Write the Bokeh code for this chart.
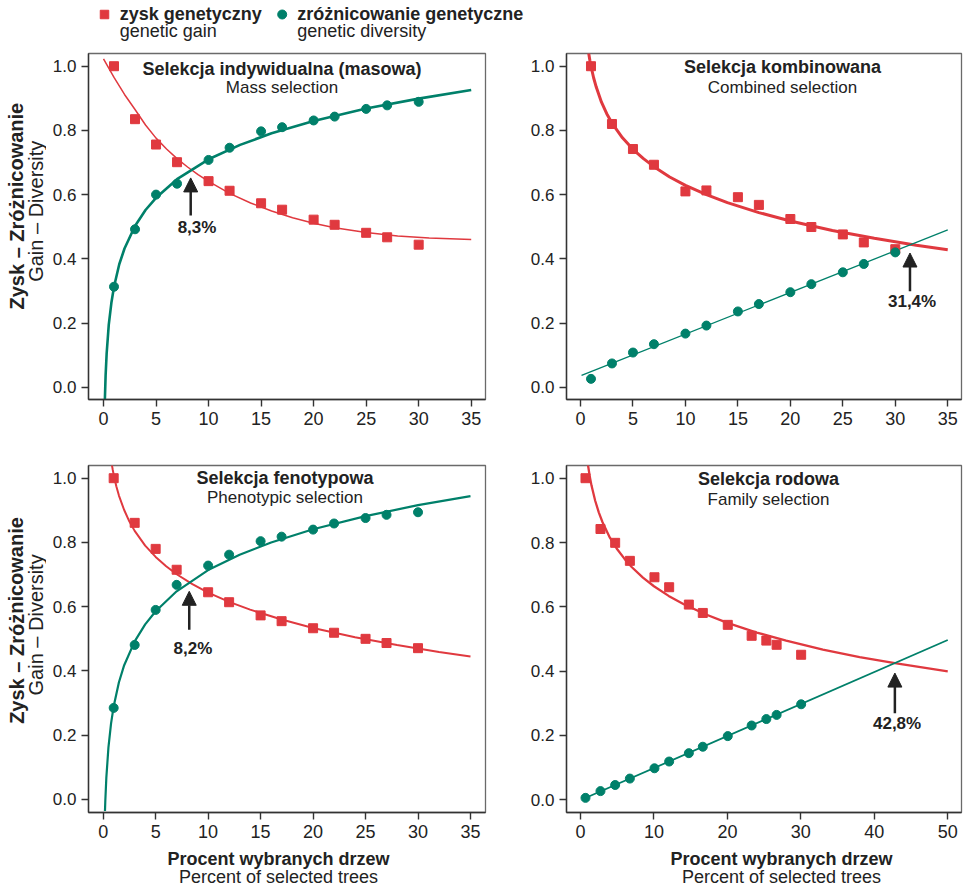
from bokeh.plotting import figure
from bokeh.models import Range1d, FixedTicker, PrintfTickFormatter, Label, Arrow, NormalHead
from bokeh.layouts import column, row
from bokeh.embed import file_html
from bokeh.resources import INLINE
from bokeh.core.properties import value

RED = "#e0393f"
GREEN = "#00806a"
INK = "#222222"
FONT = "Liberation Sans"

# ---------------- data ----------------
series_pl = ["zysk genetyczny", "zróżnicowanie genetyczne"]
series_en = ["genetic gain", "genetic diversity"]

titles_pl = ["Selekcja indywidualna (masowa)", "Selekcja kombinowana",
             "Selekcja fenotypowa", "Selekcja rodowa"]
titles_en = ["Mass selection", "Combined selection",
             "Phenotypic selection", "Family selection"]

ylabel_pl = "Zysk – Zróżnicowanie"
ylabel_en = "Gain – Diversity"
xlabel_pl = "Procent wybranych drzew"
xlabel_en = "Percent of selected trees"

ticks_35 = [0, 5, 10, 15, 20, 25, 30, 35]
ticks_50 = [0, 10, 20, 30, 40, 50]
ticks_y = [0.0, 0.2, 0.4, 0.6, 0.8, 1.0]

crossing_pct = [8.3, 31.4, 8.2, 42.8]

# panel 1 - mass selection
mass_x = [1, 3, 5, 7, 10, 12, 15, 17, 20, 22, 25, 27, 30]
mass_gain = [1.0, 0.835, 0.756, 0.701, 0.642, 0.612, 0.573, 0.553, 0.522, 0.506, 0.481, 0.467, 0.444]
mass_div = [0.313, 0.492, 0.600, 0.634, 0.708, 0.746, 0.797, 0.810, 0.831, 0.843, 0.867, 0.878, 0.889]
mass_gain_fit_x = [0, 1, 2, 3, 4, 5, 6, 7, 8, 9, 10, 12, 14, 16, 18, 20, 22, 25, 28, 31, 35]
mass_gain_fit_y = [1.023, 0.965, 0.912, 0.865, 0.817, 0.776, 0.742, 0.712, 0.686, 0.662, 0.641, 0.604,
                   0.574, 0.549, 0.528, 0.511, 0.497, 0.482, 0.471, 0.465, 0.460]
mass_div_fit_x = [0.13, 0.2, 0.3, 0.5, 0.75, 1, 1.5, 2, 3, 4, 5, 7, 10, 13, 16, 20, 25, 30, 35]
mass_div_fit_y = [-0.039, 0.036, 0.105, 0.194, 0.263, 0.313, 0.383, 0.432, 0.502, 0.552, 0.590,
                  0.648, 0.710, 0.755, 0.791, 0.829, 0.868, 0.899, 0.926]

# panel 2 - combined selection
comb_x = [1, 3, 5, 7, 10, 12, 15, 17, 20, 22, 25, 27, 30]
comb_gain = [1.0, 0.820, 0.742, 0.693, 0.610, 0.613, 0.592, 0.568, 0.524, 0.499, 0.476, 0.451, 0.430]
comb_div = [0.026, 0.074, 0.108, 0.134, 0.167, 0.192, 0.236, 0.259, 0.296, 0.321, 0.358, 0.384, 0.420]
comb_gain_fit_x = [0.78, 0.9, 1, 1.25, 1.5, 2, 2.5, 3, 4, 5, 6, 7, 8.5, 10, 12, 14, 17, 20, 24, 28, 32, 35]
comb_gain_fit_y = [1.040, 1.017, 1.0, 0.964, 0.935, 0.888, 0.852, 0.823, 0.777, 0.741, 0.712, 0.687,
                   0.655, 0.629, 0.600, 0.575, 0.544, 0.518, 0.488, 0.464, 0.442, 0.428]
comb_div_fit_x = [0.1, 35]
comb_div_fit_y = [0.037, 0.490]

# panel 3 - phenotypic selection
phen_x = [1, 3, 5, 7, 10, 12, 15, 17, 20, 22, 25, 27, 30]
phen_gain = [1.0, 0.861, 0.780, 0.715, 0.645, 0.614, 0.573, 0.555, 0.533, 0.519, 0.500, 0.487, 0.471]
phen_div = [0.285, 0.481, 0.590, 0.668, 0.728, 0.762, 0.804, 0.818, 0.840, 0.859, 0.876, 0.886, 0.894]
phen_gain_fit_x = [0.83, 0.9, 1, 1.25, 1.5, 2, 2.5, 3, 4, 5, 6, 7, 8.5, 10, 12, 14, 17, 20, 24, 28, 32, 35]
phen_gain_fit_y = [1.041, 1.028, 1.011, 0.975, 0.946, 0.901, 0.865, 0.836, 0.790, 0.755, 0.726, 0.701,
                   0.670, 0.644, 0.615, 0.591, 0.560, 0.534, 0.505, 0.481, 0.459, 0.445]
phen_div_fit_x = [0.17, 0.2, 0.3, 0.5, 0.75, 1, 1.5, 2, 3, 4, 5, 7, 10, 13, 16, 20, 25, 30, 35]
phen_div_fit_y = [-0.036, -0.006, 0.068, 0.162, 0.237, 0.290, 0.365, 0.418, 0.492, 0.545, 0.586,
                  0.648, 0.714, 0.762, 0.800, 0.841, 0.882, 0.916, 0.944]

# panel 4 - family selection
fam_x = [0.68, 2.72, 4.72, 6.72, 10.07, 12.07, 14.75, 16.65, 20.05, 23.3, 25.3, 26.7, 30.04]
fam_gain = [1.0, 0.842, 0.799, 0.743, 0.692, 0.661, 0.607, 0.581, 0.544, 0.510, 0.495, 0.482, 0.451]
fam_div = [0.006, 0.027, 0.046, 0.066, 0.098, 0.119, 0.145, 0.165, 0.198, 0.231, 0.251, 0.264, 0.297]
fam_gain_fit_x = [1.0, 1.25, 1.5, 2, 2.5, 3, 4, 5, 6, 7, 8.5, 10, 12, 14, 17, 20, 24, 28, 33, 38, 43, 50]
fam_gain_fit_y = [1.044, 1.007, 0.977, 0.930, 0.893, 0.863, 0.815, 0.779, 0.749, 0.723, 0.691, 0.664,
                  0.634, 0.609, 0.577, 0.550, 0.520, 0.495, 0.467, 0.444, 0.424, 0.399]
fam_div_fit_x = [0.5, 50]
fam_div_fit_y = [0.004, 0.497]


def txt(p, text, x, y, size, bold=False, units="screen"):
    p.add_layout(Label(x=x, y=y, x_units=units, y_units=units, text=text,
                       text_font=FONT, text_font_size=size,
                       text_font_style="bold" if bold else "normal",
                       text_color=INK, text_align="center", text_baseline="middle"))


def make_panel(i, xr, yr, xticks, ml, mr, mt, mb, fw, fh,
               px, gain, div, gfx, gfy, dfx, dfy, gw, dw,
               title_x, title_y1, title_y2, arrow_y0, arrow_y1, lab_dx, lab_y):
    p = figure(width=ml + fw + mr, height=mt + fh + mb,
               x_range=Range1d(*xr), y_range=Range1d(*yr),
               output_backend="svg", toolbar_location=None,
               min_border_left=ml, min_border_right=mr,
               min_border_top=mt, min_border_bottom=mb)
    p.xgrid.visible = False
    p.ygrid.visible = False
    p.outline_line_color = "#6a6a6a"
    p.outline_line_width = 1.3
    p.background_fill_color = "white"
    p.border_fill_color = "white"
    for ax in (p.xaxis[0], p.yaxis[0]):
        ax.axis_line_color = "#333333"
        ax.axis_line_width = 1.4
        ax.major_tick_line_color = "#333333"
        ax.major_tick_line_width = 1.4
        ax.major_tick_in = 0
        ax.major_tick_out = 7
        ax.minor_tick_line_color = None
        ax.major_label_text_font = FONT
        ax.major_label_text_color = INK
        ax.major_label_standoff = 5
    p.xaxis[0].ticker = FixedTicker(ticks=xticks)
    p.xaxis[0].major_label_text_font_size = "18px"
    p.yaxis[0].ticker = FixedTicker(ticks=ticks_y)
    p.yaxis[0].formatter = PrintfTickFormatter(format="%.1f")
    p.yaxis[0].major_label_text_font_size = "17px"

    p.line(gfx, gfy, line_color=RED, line_width=gw)
    p.line(dfx, dfy, line_color=GREEN, line_width=dw)
    p.scatter(px, gain, marker="square", size=9, fill_color=RED, line_color=RED)
    p.scatter(px, div, marker="circle", size=9, fill_color=GREEN, line_color=GREEN)

    # title lines (centres measured from the frame top)
    txt(p, titles_pl[i], title_x, fh - title_y1, "18px", bold=True)
    txt(p, titles_en[i], title_x, fh - title_y2, "17px")

    c = crossing_pct[i]
    p.add_layout(Arrow(end=NormalHead(size=14, fill_color=INK, line_color=INK, line_width=1),
                       x_start=c, y_start=arrow_y0, x_end=c, y_end=arrow_y1,
                       line_color=INK, line_width=2.5))
    txt(p, f"{c:.1f}%".replace(".", ","), c + lab_dx, lab_y, "17px", bold=True, units="data")
    return p


def strip(w, h):
    s = figure(width=w, height=h, x_range=Range1d(0, w), y_range=Range1d(h, 0),
               output_backend="svg", toolbar_location=None, min_border=0,
               x_axis_location=None, y_axis_location=None)
    s.xgrid.visible = False
    s.ygrid.visible = False
    s.outline_line_color = None
    s.background_fill_color = "white"
    s.border_fill_color = "white"
    return s


YS_W = 46
W1_ML, W1_FW, W1_MR = 42, 397, 25
W2_ML, W2_FW, W2_MR = 56, 395, 3
LEG_H = 44
R1_MT, R1_FH, R1_MB = 9, 346, 53
R2_MT, R2_FH, R2_MB = 13, 347, 34
XS_H = 40
TOTAL_W = YS_W + W1_ML + W1_FW + W1_MR + W2_ML + W2_FW + W2_MR

p1 = make_panel(0, (-1.428, 36.36), (-0.0383, 1.0396), ticks_35, W1_ML, W1_MR, R1_MT, R1_MB, W1_FW, R1_FH,
                mass_x, mass_gain, mass_div, mass_gain_fit_x, mass_gain_fit_y,
                mass_div_fit_x, mass_div_fit_y, 1.5, 2.6,
                193.5, 15.6, 33.9, 0.535, 0.652, 0.6, 0.499)
p2 = make_panel(1, (-1.334, 36.31), (-0.0383, 1.0396), ticks_35, W2_ML, W2_MR, R1_MT, R1_MB, W2_FW, R1_FH,
                comb_x, comb_gain, comb_div, comb_gain_fit_x, comb_gain_fit_y,
                comb_div_fit_x, comb_div_fit_y, 3.0, 1.3,
                216, 13.6, 33.9, 0.299, 0.418, 0.2, 0.268)
p3 = make_panel(2, (-1.40, 36.43), (-0.0405, 1.0395), ticks_35, W1_ML, W1_MR, R2_MT, R2_MB, W1_FW, R2_FH,
                phen_x, phen_gain, phen_div, phen_gain_fit_x, phen_gain_fit_y,
                phen_div_fit_x, phen_div_fit_y, 2.0, 2.2,
                196.5, 12.9, 31.9, 0.528, 0.648, 0.35, 0.470)
p4 = make_panel(3, (-1.906, 51.87), (-0.0395, 1.0395), ticks_50, W2_ML, W2_MR, R2_MT, R2_MB, W2_FW, R2_FH,
                fam_x, fam_gain, fam_div, fam_gain_fit_x, fam_gain_fit_y,
                fam_div_fit_x, fam_div_fit_y, 2.3, 1.8,
                202, 13.6, 33.9, 0.269, 0.394, 0.3, 0.238)

# y-axis title strips (rotated two-line titles)
ys1 = strip(YS_W, R1_MT + R1_FH + R1_MB)
ys2 = strip(YS_W, R2_MT + R2_FH + R2_MB)
for s, cy1, cy2 in ((ys1, 180, 186), (ys2, 176, 181)):
    s.text(x=[16], y=[cy1], text=[ylabel_pl], angle=1.5708, text_font=value(FONT),
           text_font_style="bold", text_font_size="20px", text_color=INK,
           text_align="center", text_baseline="middle")
    s.text(x=[35.5], y=[cy2], text=[ylabel_en], angle=1.5708, text_font=value(FONT),
           text_font_size="20px", text_color=INK, text_align="center", text_baseline="middle")

# x-axis title strip
xs = strip(TOTAL_W, XS_H)
xs.text(x=[278, 781], y=[12.6, 12.6], text=[xlabel_pl, xlabel_pl], text_font=value(FONT),
        text_font_style="bold", text_font_size="18px", text_color=INK,
        text_align="center", text_baseline="middle")
xs.text(x=[278, 781], y=[30.8, 30.8], text=[xlabel_en, xlabel_en], text_font=value(FONT),
        text_font_size="18px", text_color=INK, text_align="center", text_baseline="middle")

# legend strip
leg = strip(TOTAL_W, LEG_H)
leg.scatter([104], [14], marker="square", size=8.5, fill_color=RED, line_color=RED)
leg.scatter([281.7], [14], marker="circle", size=9, fill_color=GREEN, line_color=GREEN)
leg.text(x=[119.3, 296.7], y=[13, 13], text=series_pl, text_font=value(FONT),
         text_font_style="bold", text_font_size="18px", text_color=INK, text_baseline="middle")
leg.text(x=[119.3, 296.7], y=[30.3, 30.3], text=series_en, text_font=value(FONT),
         text_font_size="18px", text_color=INK, text_baseline="middle")

layout = column(leg, row(ys1, p1, p2), row(ys2, p3, p4), xs)

with open("out.html", "w") as f:
    f.write(file_html(layout, INLINE))
